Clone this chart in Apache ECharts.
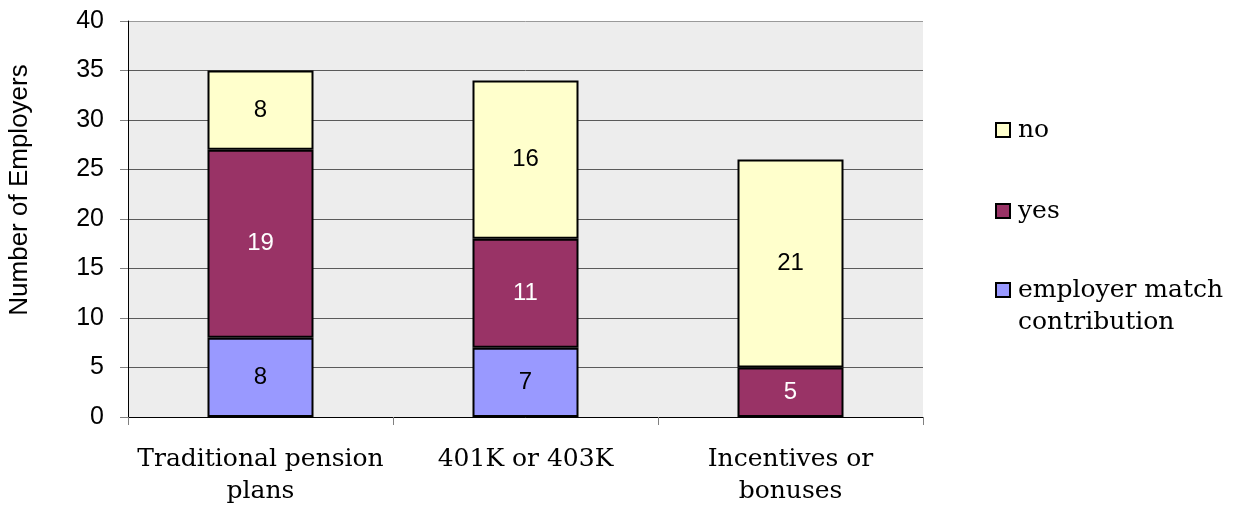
<!DOCTYPE html>
<html>
<head>
<meta charset="utf-8">
<script src="https://cdn.jsdelivr.net/npm/echarts@6/dist/echarts.min.js"></script>
<style>
  html, body { margin: 0; padding: 0; background: #ffffff; }
  #chart { width: 1233px; height: 508px; }
</style>
</head>
<body>
<div id="chart"></div>
<script>
// Retirement / incentive benefits offered, by type of plan
const categories = ['Traditional pension\nplans', '401K or 403K', 'Incentives or\nbonuses'];
const employerMatch = [8, 7, null];
const yesValues = [19, 11, 5];
const noValues = [8, 16, 21];
const yTicks = [0, 5, 10, 15, 20, 25, 30, 35, 40];

const sansFont = '"Liberation Sans", Arial, sans-serif';
const serifFont = '"DejaVu Serif", serif';
const EMPLOYER = 'employer match\ncontribution';

const chart = echarts.init(document.getElementById('chart'), null, { renderer: 'canvas' });

function barSeries(name, data, color, labelColor) {
  return {
    name: name,
    type: 'bar',
    stack: 'total',
    data: data,
    barWidth: '40%',
    itemStyle: { color: color, borderColor: '#000000', borderWidth: 2 },
    label: {
      show: true,
      position: 'inside',
      color: labelColor,
      fontFamily: sansFont,
      fontSize: 24
    },
    emphasis: { disabled: true }
  };
}

const legendText = { fontFamily: serifFont, fontSize: 25, color: '#000000', lineHeight: 32, padding: [0, 0, 0, 3] };

const legendBase = {
  orient: 'vertical',
  left: 990,
  itemWidth: 14,
  itemHeight: 14,
  icon: 'rect',
  itemStyle: { borderColor: '#000000', borderWidth: 2 },
  selectedMode: false,
  textStyle: legendText
};

const option = {
  animation: false,
  grid: {
    left: 128, right: 310, top: 21, bottom: 91,
    show: true, backgroundColor: '#ededed', borderWidth: 0
  },
  legend: [
    Object.assign({}, legendBase, {
      top: 109,
      itemGap: 49,
      data: ['no', 'yes']
    }),
    Object.assign({}, legendBase, {
      top: 237,
      // empty leading line keeps the swatch level with the first line of the two-line name
      formatter: function (name) { return ' \n' + name; },
      data: [EMPLOYER]
    })
  ],
  graphic: [{
    type: 'text',
    x: 20, y: 190,
    rotation: Math.PI / 2,
    style: {
      text: 'Number of Employers',
      font: '26px ' + sansFont,
      fill: '#000000',
      align: 'center',
      verticalAlign: 'middle'
    }
  }],
  xAxis: {
    type: 'category',
    data: categories,
    axisLine: { lineStyle: { color: '#000000', width: 1 } },
    axisTick: { show: true, length: 8, lineStyle: { color: '#808080' } },
    axisLabel: {
      color: '#000000', fontFamily: serifFont, fontSize: 25, lineHeight: 32,
      margin: 26, interval: 0
    }
  },
  yAxis: {
    type: 'value',
    min: yTicks[0],
    max: yTicks[yTicks.length - 1],
    interval: 5,
    axisLine: { show: true, lineStyle: { color: '#000000', width: 1 } },
    axisTick: { show: true, length: 8, lineStyle: { color: '#808080' } },
    axisLabel: { color: '#000000', fontFamily: sansFont, fontSize: 25, margin: 24 },
    splitLine: {
      show: true,
      lineStyle: {
        color: ['#5a5a5a', '#5a5a5a', '#5a5a5a', '#5a5a5a', '#5a5a5a', '#5a5a5a', '#5a5a5a', '#5a5a5a', '#9a9a9a'],
        width: 1
      }
    }
  },
  series: [
    barSeries(EMPLOYER, employerMatch, '#9999ff', '#000000'),
    barSeries('yes', yesValues, '#993366', '#ffffff'),
    barSeries('no', noValues, '#ffffcc', '#000000')
  ]
};

chart.setOption(option);
</script>
</body>
</html>
